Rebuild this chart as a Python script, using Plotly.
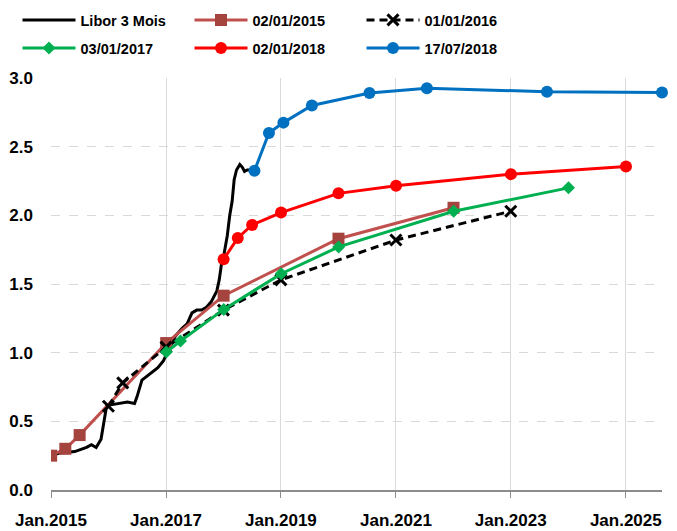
import plotly.graph_objects as go

# ---------------- data ----------------
libor_dates = ["2015-01-02", "2015-03-01", "2015-06-01", "2015-08-15", "2015-09-15", "2015-10-15",
               "2015-11-15", "2015-12-05", "2015-12-20", "2016-01-15", "2016-03-01", "2016-05-01",
               "2016-06-15", "2016-07-01", "2016-08-01", "2016-09-15", "2016-10-15", "2016-11-10",
               "2016-12-15", "2017-01-10", "2017-03-01", "2017-04-15", "2017-05-15", "2017-06-15",
               "2017-07-15", "2017-08-15", "2017-09-15", "2017-10-15", "2017-11-20", "2017-12-05",
               "2017-12-20", "2018-01-05", "2018-01-25", "2018-02-10", "2018-02-25", "2018-03-10",
               "2018-03-25", "2018-04-15", "2018-05-01", "2018-05-15", "2018-06-01", "2018-07-01"]
libor_values = [0.25, 0.27, 0.28, 0.31, 0.33, 0.31,
                0.37, 0.52, 0.61, 0.62, 0.63, 0.64,
                0.63, 0.68, 0.80, 0.84, 0.86, 0.89,
                0.94, 1.00, 1.12, 1.18, 1.21, 1.29,
                1.31, 1.31, 1.33, 1.37, 1.45, 1.53,
                1.65, 1.72, 1.85, 2.00, 2.10, 2.26,
                2.33, 2.37, 2.35, 2.32, 2.33, 2.33]

c2015_dates = ["2015-01-02", "2015-04-02", "2015-07-02", "2017-01-02", "2018-01-02", "2020-01-02", "2022-01-02"]
c2015_values = [0.25, 0.30, 0.40, 1.07, 1.415, 1.83, 2.055]

c2016_dates = ["2016-01-01", "2016-04-01", "2017-01-01", "2018-01-01", "2019-01-01", "2021-01-01", "2023-01-01"]
c2016_values = [0.61, 0.78, 1.04, 1.31, 1.53, 1.82, 2.03]

c2017_dates = ["2017-01-03", "2017-04-03", "2018-01-03", "2019-01-03", "2020-01-03", "2022-01-03", "2024-01-03"]
c2017_values = [1.005, 1.085, 1.315, 1.575, 1.77, 2.03, 2.20]

c2018_dates = ["2018-01-02", "2018-04-02", "2018-07-02", "2019-01-02", "2020-01-02", "2021-01-02", "2023-01-02", "2025-01-02"]
c2018_values = [1.68, 1.835, 1.93, 2.02, 2.16, 2.215, 2.30, 2.355]

c2018b_dates = ["2018-07-17", "2018-10-17", "2019-01-17", "2019-07-17", "2020-07-17", "2021-07-17", "2023-08-19", "2025-08-19"]
c2018b_values = [2.325, 2.60, 2.675, 2.80, 2.89, 2.925, 2.90, 2.895]

tick_vals = ["2015-01-01", "2017-01-01", "2019-01-01", "2021-01-01", "2023-01-01", "2025-01-01"]
tick_text = ["Jan.2015", "Jan.2017", "Jan.2019", "Jan.2021", "Jan.2023", "Jan.2025"]

FONT = "Liberation Sans, Arial, sans-serif"
BOLD = dict(family=FONT, size=17, color="black", weight="bold")
LEG_FONT = dict(family=FONT, size=14.5, color="black", weight="bold")

fig = go.Figure()

fig.add_trace(go.Scatter(x=libor_dates, y=libor_values, name="Libor 3 Mois", mode="lines",
                         line=dict(color="black", width=3), legend="legend"))
fig.add_trace(go.Scatter(x=c2015_dates, y=c2015_values, name="02/01/2015", mode="lines+markers",
                         line=dict(color="#C0504D", width=3),
                         marker=dict(symbol="square", size=12, color="#A5443F"), legend="legend2"))
fig.add_trace(go.Scatter(x=c2016_dates, y=c2016_values, name="01/01/2016", mode="lines+markers",
                         line=dict(color="black", width=3, dash="8px,5px"),
                         marker=dict(symbol="x-thin", size=11, color="black",
                                     line=dict(color="black", width=3)), legend="legend3"))
fig.add_trace(go.Scatter(x=c2017_dates, y=c2017_values, name="03/01/2017", mode="lines+markers",
                         line=dict(color="#00B050", width=3),
                         marker=dict(symbol="diamond", size=10, color="#00B050"), legend="legend4"))
fig.add_trace(go.Scatter(x=c2018_dates, y=c2018_values, name="02/01/2018", mode="lines+markers",
                         line=dict(color="#FF0000", width=3),
                         marker=dict(symbol="circle", size=12, color="#FF0000"), legend="legend5"))
fig.add_trace(go.Scatter(x=c2018b_dates, y=c2018b_values, name="17/07/2018", mode="lines+markers",
                         line=dict(color="#0070C0", width=3),
                         marker=dict(symbol="circle", size=12, color="#0070C0"), legend="legend6",
                         cliponaxis=False))

legend_common = dict(orientation="h", xref="container", yref="container", xanchor="left",
                     yanchor="middle", itemwidth=53,
                     font=LEG_FONT, bgcolor="rgba(0,0,0,0)", itemclick=False)

W, H = 677, 531
col_x = [17.5, 189.5, 361.5]
row_y = [20, 48]

fig.update_layout(
    width=W, height=H,
    margin=dict(l=51, r=15, t=78, b=41, autoexpand=False),
    paper_bgcolor="white", plot_bgcolor="white",
    font=BOLD,
    showlegend=True,
    legend=dict(x=col_x[0] / W, y=1 - row_y[0] / H, **legend_common),
    legend2=dict(x=col_x[1] / W, y=1 - row_y[0] / H, **legend_common),
    legend3=dict(x=col_x[2] / W, y=1 - row_y[0] / H, **legend_common),
    legend4=dict(x=col_x[0] / W, y=1 - row_y[1] / H, **legend_common),
    legend5=dict(x=col_x[1] / W, y=1 - row_y[1] / H, **legend_common),
    legend6=dict(x=col_x[2] / W, y=1 - row_y[1] / H, **legend_common),
    xaxis=dict(type="date", range=["2015-01-01", "2025-08-19"],
               tickvals=tick_vals, ticktext=tick_text,
               showgrid=True, gridcolor="#D9D9D9", gridwidth=1,
               showline=True, linecolor="#8C8C8C", linewidth=1.5,
               ticks="outside", ticklen=6, tickcolor="#8C8C8C",
               ticklabelstandoff=8,
               tickfont=BOLD, zeroline=False),
    yaxis=dict(range=[0, 3.0], dtick=0.5, tick0=0, tickformat=".1f",
               showgrid=True, gridcolor="#D9D9D9", gridwidth=1, griddash="dash",
               showline=False, zeroline=False, ticks="", ticklabelstandoff=17,
               tickfont=BOLD),
)

post = "document.body.style.margin='0';document.body.style.overflow='hidden';"

fig.write_html("out.html", config={"displayModeBar": False}, post_script=post)
